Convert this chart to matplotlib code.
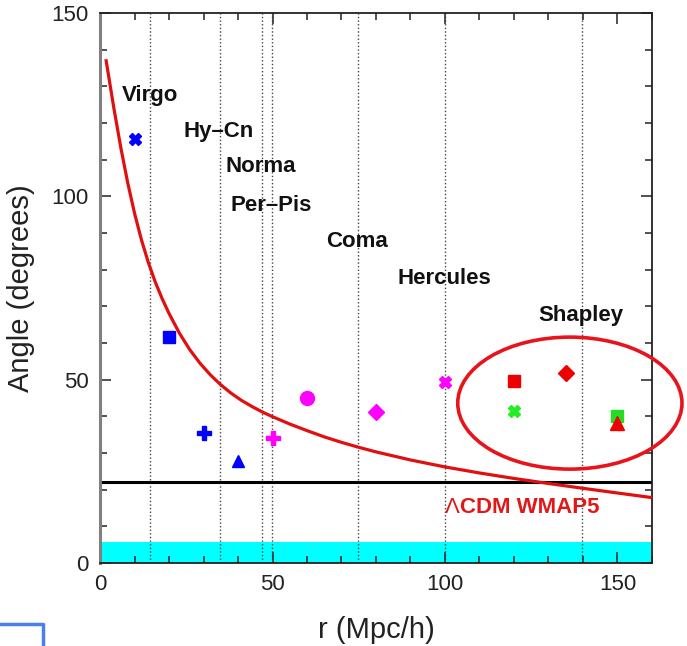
import matplotlib.pyplot as plt
from matplotlib.patches import Ellipse
from matplotlib.lines import Line2D
from matplotlib.ticker import MultipleLocator

plt.rcParams['font.family'] = ['Liberation Sans', 'DejaVu Sans']

# LCDM WMAP5 curve
curve_r = [1.7, 4, 6, 8, 10, 12, 14, 16, 18, 20, 23, 26, 29, 32, 35, 38, 41, 44,
           47, 50, 55, 60, 65, 70, 75, 80, 90, 100, 110, 120, 130, 140, 150, 160]
curve_angle = [137.4, 124.1, 113.4, 103.8, 95.4, 88.15, 81.95, 76.65, 72.1, 68.05,
               62.7, 58.2, 54.45, 51.3, 48.6, 46.3, 44.35, 42.7, 41.2, 39.9, 37.9,
               36.1, 34.4, 32.9, 31.55, 30.3, 28.1, 26.2, 24.55, 23.06, 21.68,
               20.37, 19.09, 17.83]

# clusters: r, angle, marker, colour
pts_r = [10, 20, 30, 40, 50, 60, 80, 100, 120, 120, 135, 150, 150]
pts_angle = [115.6, 61.7, 35.5, 27.8, 34.0, 44.9, 41.3, 49.4, 49.6, 41.5, 51.7, 40.2, 38.3]
pts_marker = ['X', 's', 'P', '^', 'P', 'o', 'D', 'X', 's', 'X', 'D', 's', '^']
pts_color = ['#0000ff', '#0000ff', '#0000ff', '#0000ff', '#ff00ff', '#ff00ff',
             '#ff00ff', '#ff00ff', '#ee0000', '#22ee22', '#ee0000', '#22dd22', '#ee0000']
pts_size = [9, 8, 10, 9, 10, 10, 8, 9, 8, 9, 8, 8, 10]

vlines_r = [14.5, 34.7, 46.9, 49.9, 74.7, 100, 139.7]

names = ['Virgo', 'Hy\u2013Cn', 'Norma', 'Per\u2013Pis', 'Coma', 'Hercules', 'Shapley']
names_r = [6.4, 24.1, 36.5, 37.7, 65.5, 86.1, 127.0]
names_angle = [127.6, 117.8, 108.0, 97.6, 87.8, 77.7, 67.4]

fig = plt.figure(figsize=(6.87, 6.46), dpi=100)
ax = fig.add_axes([0.1456, 0.1285, 0.8034, 0.8514])

ax.axhspan(0, 5.7, color='#00ffff', lw=0, zorder=0)
for v in vlines_r:
    ax.axvline(v, color='#444444', ls=(0, (1, 1.6)), lw=1.0, zorder=1)
ax.axhline(22.2, color='black', lw=2.2, zorder=2)
ax.plot(curve_r, curve_angle, color='#e01010', lw=2.3, zorder=3,
        solid_joinstyle='round', solid_capstyle='butt')

for r, a, m, c, s in zip(pts_r, pts_angle, pts_marker, pts_color, pts_size):
    ax.plot(r, a, marker=m, color=c, markersize=s, mec=c, ls='none', zorder=4)

for n, r, a in zip(names, names_r, names_angle):
    ax.text(r, a, n, fontsize=16, fontweight='bold', ha='left', va='center', color='#111111')
ax.text(100, 15, '\u039b', fontsize=16, color='#e01818', ha='left', va='center')
ax.text(104.4, 15, 'CDM WMAP5', fontsize=16, fontweight='bold', color='#e01818',
        ha='left', va='center')

ax.add_patch(Ellipse((136.2, 43.6), 65, 36, fill=False, ec='#e8141c', lw=2.6,
                     clip_on=False, zorder=5))

ax.set_xlim(0, 160)
ax.set_ylim(0, 150)
ax.xaxis.set_major_locator(MultipleLocator(50))
ax.xaxis.set_minor_locator(MultipleLocator(10))
ax.yaxis.set_major_locator(MultipleLocator(50))
ax.yaxis.set_minor_locator(MultipleLocator(10))
ax.tick_params(which='both', direction='in', top=True, right=True, colors='#333333',
               labelcolor='#222222', labelsize=16, width=1.2)
ax.tick_params(which='major', length=8, pad=8)
ax.tick_params(which='minor', length=5)
for s in ax.spines.values():
    s.set_color('#222222')
    s.set_linewidth(1.3)
ax.spines['left'].set_color('#808080')
ax.spines['left'].set_linewidth(2.2)

ax.set_xlabel('r (Mpc/h)', fontsize=21, color='#222222', labelpad=15)
ax.set_ylabel('Angle (degrees)', fontsize=21, color='#222222', labelpad=12)

# cropped blue frame at the lower left corner
fig.add_artist(Line2D([0, 43 / 687, 43 / 687], [1 - 624 / 646, 1 - 624 / 646, 0],
                      color='#4a80ee', lw=2.5, transform=fig.transFigure))

fig.savefig('out.png', dpi=100)
